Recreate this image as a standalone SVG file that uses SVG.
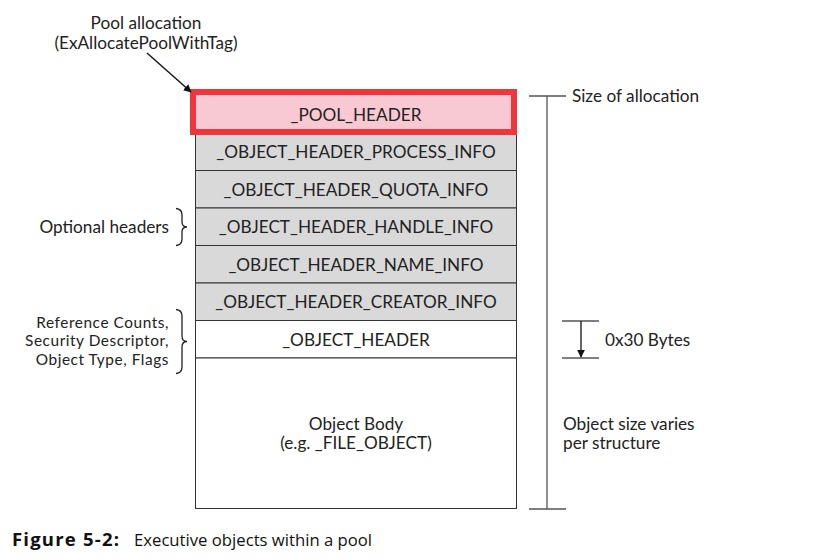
<svg xmlns="http://www.w3.org/2000/svg" width="836" height="559" viewBox="0 0 836 559">
<style>
text{font-family:"Lato","Noto Sans",sans-serif;font-size:17.2px;fill:#222}
.c{text-anchor:middle}
.r{text-anchor:end}
.s{font-size:15.4px;letter-spacing:0.55px}
.row{fill:#d9d9d9;stroke:#333;stroke-width:1}
.wrow{fill:#fff;stroke:#333;stroke-width:1}
.ln{stroke:#555;stroke-width:1.3;fill:none}
.br{stroke:#222;stroke-width:1.3;fill:none}
.cap{font-family:"Open Sans","Liberation Sans",sans-serif;font-size:16.7px;fill:#111}
</style>
<defs>
<marker id="ah" viewBox="0 0 10 10" refX="9" refY="5" markerWidth="8" markerHeight="8" orient="auto" markerUnits="userSpaceOnUse">
<path d="M0,0 L10,5 L0,10 z" fill="#111"/>
</marker>
</defs>
<rect width="836" height="559" fill="#fff"/>
<g id="process"><rect class="row" x="195.5" y="133" width="321" height="37.5"/><text class="c" x="356" y="158">_OBJECT_HEADER_PROCESS_INFO</text></g>
<g id="quota"><rect class="row" x="195.5" y="170.5" width="321" height="37.5"/><text class="c" x="356" y="195.5">_OBJECT_HEADER_QUOTA_INFO</text></g>
<g id="handle"><rect class="row" x="195.5" y="208" width="321" height="37.5"/><text class="c" x="356" y="233">_OBJECT_HEADER_HANDLE_INFO</text></g>
<g id="name"><rect class="row" x="195.5" y="245.5" width="321" height="37.5"/><text class="c" x="356" y="270.5">_OBJECT_HEADER_NAME_INFO</text></g>
<g id="creator"><rect class="row" x="195.5" y="283" width="321" height="37.5"/><text class="c" x="356" y="308">_OBJECT_HEADER_CREATOR_INFO</text></g>
<g id="objheader"><rect class="wrow" x="195.5" y="320.5" width="321" height="37.5"/><text class="c" x="356" y="345.5">_OBJECT_HEADER</text></g>
<g id="body"><rect class="wrow" x="195.5" y="358" width="321" height="150.5"/><text class="c" x="356" y="430">Object Body</text><text class="c" x="356" y="449">(e.g. _FILE_OBJECT)</text></g>
<g id="pool"><rect x="193" y="92" width="321" height="40" fill="#f8c9d2" stroke="#f0363d" stroke-width="6"/><text class="c" x="356" y="120.5">_POOL_HEADER</text></g>
<g id="labels">
<text class="c" x="146" y="29">Pool allocation</text>
<text class="c" x="146" y="49">(ExAllocatePoolWithTag)</text>
<text class="r" x="169" y="232.5">Optional headers</text>
<text class="r s" x="169" y="327.5">Reference Counts,</text>
<text class="r s" x="169" y="346">Security Descriptor,</text>
<text class="r s" x="169" y="364.5">Object Type, Flags</text>
<text x="572" y="102">Size of allocation</text>
<text x="605" y="346">0x30 Bytes</text>
<text x="563" y="430">Object size varies</text>
<text x="563" y="449">per structure</text>
</g>
<g id="connectors">
<line x1="147" y1="53" x2="191" y2="92" stroke="#111" stroke-width="1.4" marker-end="url(#ah)"/>
<path class="br" d="M176,208.5 Q182,209 182,215 L182,222 Q182,227 187,227 Q182,227 182,232 L182,239 Q182,245 176,245.5"/>
<path class="br" d="M176,309.5 Q182,310 182,316 L182,336 Q182,341.5 187,341.5 Q182,341.5 182,347 L182,367 Q182,373 176,373.5"/>
<line class="ln" x1="529" y1="96" x2="566" y2="96"/>
<line class="ln" x1="547" y1="96" x2="547" y2="509"/>
<line class="ln" x1="529" y1="509" x2="566" y2="509"/>
<line class="ln" x1="562" y1="321" x2="599" y2="321"/>
<line class="ln" x1="562" y1="358" x2="599" y2="358"/>
<line x1="581" y1="321" x2="581" y2="357" stroke="#111" stroke-width="1.3" marker-end="url(#ah)"/>
</g>
<text class="cap" x="12" y="546"><tspan font-weight="bold" font-size="18.5" letter-spacing="1.2">Figure 5-2:</tspan><tspan x="134">Executive objects within a pool</tspan></text>
</svg>
